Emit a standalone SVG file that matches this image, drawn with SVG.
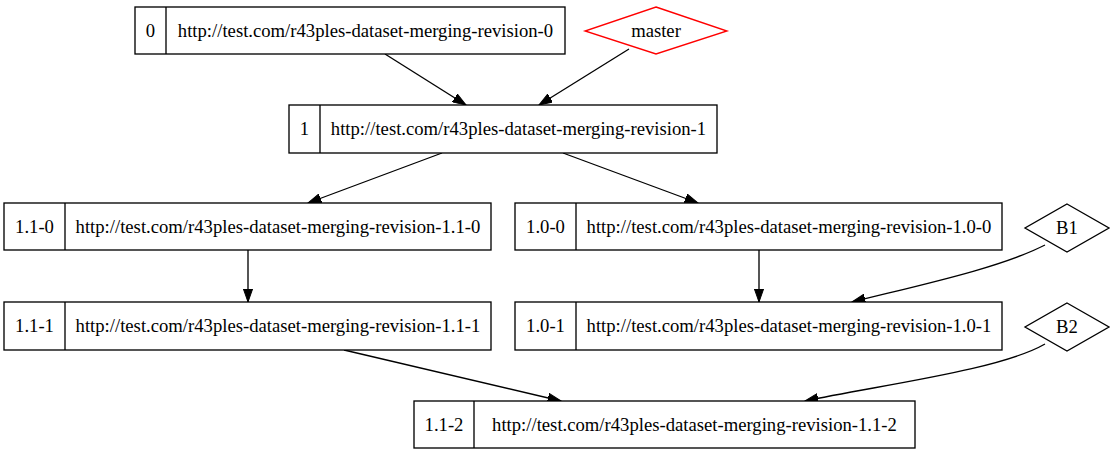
<svg xmlns="http://www.w3.org/2000/svg" width="1114" height="456" viewBox="0 0 1114 456">
<style>
.box{fill:#fff;stroke:#000;stroke-width:1.33}
.div{stroke:#000;stroke-width:1.33}
.t{font-family:"Liberation Serif","Times New Roman",serif;font-size:18.67px;text-anchor:middle;fill:#000}
.e{fill:none;stroke:#000;stroke-width:1.33}
</style>
<defs>
<marker id="ah" markerUnits="userSpaceOnUse" markerWidth="14" markerHeight="10" refX="13.3" refY="5" orient="auto" viewBox="0 0 14 10">
<polygon points="0,0.3 13.3,5 0,9.7" fill="#000" stroke="#000" stroke-width="1"/>
</marker>
</defs>
<rect width="1114" height="456" fill="#fff"/>
<g id="edges">
<path class="e" d="M385,54 L466,105" marker-end="url(#ah)"/>
<path class="e" d="M629,49 L539,105" marker-end="url(#ah)"/>
<path class="e" d="M442,153 L308,203" marker-end="url(#ah)"/>
<path class="e" d="M563,153 L698,203" marker-end="url(#ah)"/>
<path class="e" d="M248,250 L248,302" marker-end="url(#ah)"/>
<path class="e" d="M759,250 L759,302" marker-end="url(#ah)"/>
<path class="e" d="M1045,245 C1000,268 920,285 852,302" marker-end="url(#ah)"/>
<path class="e" d="M344,350 L561,401" marker-end="url(#ah)"/>
<path class="e" d="M1045,344 C1000,370 880,385 805,401" marker-end="url(#ah)"/>
</g>
<g id="n0">
<rect class="box" x="135" y="7" width="430" height="47"/>
<line class="div" x1="166" y1="7" x2="166" y2="54"/>
<text class="t" x="150.5" y="37">0</text>
<text class="t" x="365.5" y="37">http://test.com/r43ples-dataset-merging-revision-0</text>
</g>
<g id="master">
<polygon points="656,7 727,31 656,54 585,31" fill="#fff" stroke="#f00" stroke-width="1.33"/>
<text class="t" x="656" y="37">master</text>
</g>
<g id="n1">
<rect class="box" x="289" y="105" width="428" height="48"/>
<line class="div" x1="320" y1="105" x2="320" y2="153"/>
<text class="t" x="304.5" y="135">1</text>
<text class="t" x="518.5" y="135">http://test.com/r43ples-dataset-merging-revision-1</text>
</g>
<g id="n1_1-0">
<rect class="box" x="4" y="203" width="487" height="47"/>
<line class="div" x1="65" y1="203" x2="65" y2="250"/>
<text class="t" x="34.5" y="233">1.1-0</text>
<text class="t" x="278" y="233">http://test.com/r43ples-dataset-merging-revision-1.1-0</text>
</g>
<g id="n1_0-0">
<rect class="box" x="515" y="203" width="487" height="47"/>
<line class="div" x1="576" y1="203" x2="576" y2="250"/>
<text class="t" x="545.5" y="233">1.0-0</text>
<text class="t" x="789" y="233">http://test.com/r43ples-dataset-merging-revision-1.0-0</text>
</g>
<g id="B1">
<polygon points="1067,204 1109,228 1067,252 1025,228" fill="#fff" stroke="#000" stroke-width="1.33"/>
<text class="t" x="1067" y="234">B1</text>
</g>
<g id="n1_1-1">
<rect class="box" x="4" y="302" width="487" height="48"/>
<line class="div" x1="65" y1="302" x2="65" y2="350"/>
<text class="t" x="34.5" y="332">1.1-1</text>
<text class="t" x="278" y="332">http://test.com/r43ples-dataset-merging-revision-1.1-1</text>
</g>
<g id="n1_0-1">
<rect class="box" x="515" y="302" width="487" height="48"/>
<line class="div" x1="576" y1="302" x2="576" y2="350"/>
<text class="t" x="545.5" y="332">1.0-1</text>
<text class="t" x="789" y="332">http://test.com/r43ples-dataset-merging-revision-1.0-1</text>
</g>
<g id="B2">
<polygon points="1067,303 1109,327 1067,351 1025,327" fill="#fff" stroke="#000" stroke-width="1.33"/>
<text class="t" x="1067" y="333">B2</text>
</g>
<g id="n1_1-2">
<rect class="box" x="414" y="401" width="501" height="47"/>
<line class="div" x1="474" y1="401" x2="474" y2="448"/>
<text class="t" x="444" y="431">1.1-2</text>
<text class="t" x="694.5" y="431">http://test.com/r43ples-dataset-merging-revision-1.1-2</text>
</g>
</svg>
